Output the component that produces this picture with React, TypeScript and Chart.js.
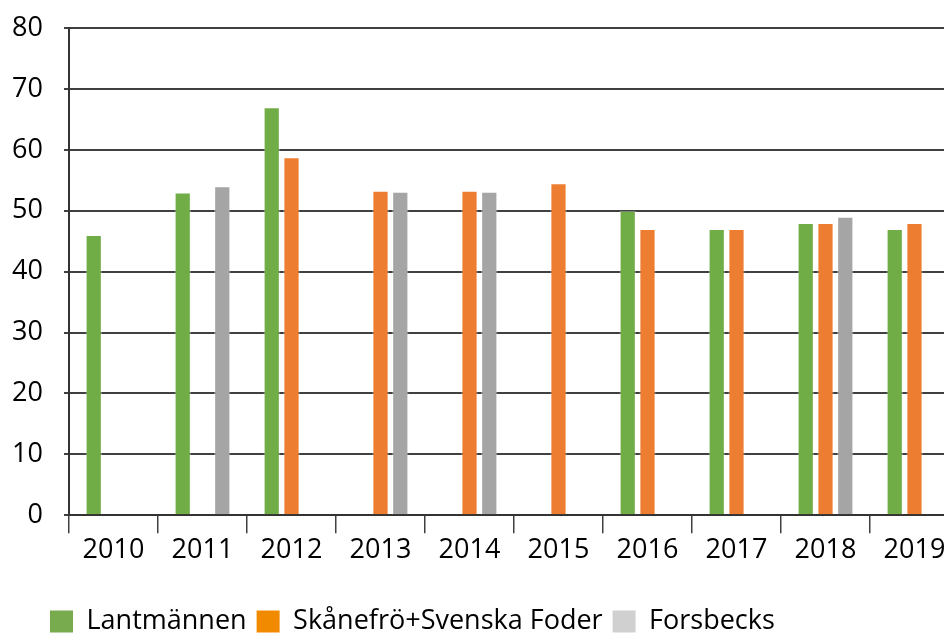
import React, { useEffect, useRef } from "react";
import { Chart, registerables } from "chart.js";

Chart.register(...registerables);

const categories = ["2010", "2011", "2012", "2013", "2014", "2015", "2016", "2017", "2018", "2019"];
const lantmannen = [46, 53, 67, null, null, null, 50, 47, 48, 47];
const skanefro = [null, null, 58.8, 53.3, 53.3, 54.5, 47, 47, 48, 48];
const forsbecks = [null, 54, null, 53.1, 53.1, null, null, null, 49, null];
const seriesNames = ["Lantmännen", "Skånefrö+Svenska Foder", "Forsbecks"];
const barColors = ["#70ad47", "#ed7d31", "#a5a5a5"];
const legendColors = ["#77ab4d", "#f28a00", "#d0d0d0"];
const yTicks = [0, 10, 20, 30, 40, 50, 60, 70, 80];

const FONT = "'Open Sans', 'Noto Sans', sans-serif";

export default function App() {
  const ref = useRef<HTMLCanvasElement>(null);
  useEffect(() => {
    if (!ref.current) return;
    const legendMover = {
      id: "legendMover",
      afterLayout(chart: any) {
        const lg = chart.legend;
        if (!lg) return;
        const w = lg.right - lg.left;
        lg.left = 32;
        lg.right = 32 + w;
        const h = lg.bottom - lg.top;
        lg.top = 590;
        lg.bottom = 590 + h;
      },
    };
    const chart = new Chart(ref.current, {
      type: "bar",
      data: {
        labels: categories,
        datasets: [lantmannen, skanefro, forsbecks].map((d, i) => ({
          label: seriesNames[i],
          data: d,
          backgroundColor: barColors[i],
          borderColor: "rgba(255,255,255,0.4)",
          borderWidth: 1,
          categoryPercentage: 0.667,
          barPercentage: 0.82,
        })),
      },
      options: {
        animation: false,
        responsive: true,
        maintainAspectRatio: false,
        layout: { padding: { top: 20, right: 49, left: 0, bottom: 0 } },
        font: { family: FONT },
        plugins: {
          title: { display: false },
          tooltip: { enabled: false },
          legend: {
            position: "bottom",
            align: "start",
            labels: {
              font: { family: FONT, size: 27 },
              color: "#000",
              boxWidth: 23,
              boxHeight: 22,
              padding: 10,
              generateLabels: () =>
                seriesNames.map((n, i) => ({
                  text: n,
                  fillStyle: legendColors[i],
                  strokeStyle: legendColors[i],
                  lineWidth: 0,
                  hidden: false,
                  datasetIndex: i,
                  fontColor: "#000",
                })),
            },
          },
        },
        scales: {
          x: {
            grid: {
              offset: true,
              drawOnChartArea: false,
              drawTicks: true,
              tickLength: 18,
              color: "#404040",
              lineWidth: 1.5,
            },
            border: { color: "#333", width: 2 },
            ticks: {
              font: { family: FONT, size: 27 },
              color: "#000",
              padding: 1,
              maxRotation: 0,
              autoSkip: false,
            },
            afterFit: (s: any) => {
              s.height = 72.7;
            },
          },
          y: {
            min: 0,
            max: 80,
            afterBuildTicks: (s: any) => {
              s.ticks = yTicks.map((v) => ({ value: v }));
            },
            grid: {
              color: "#404040",
              lineWidth: 2,
              tickLength: 5,
              drawTicks: true,
            },
            border: { color: "#333", width: 2 },
            ticks: {
              font: { family: FONT, size: 27 },
              color: "#000",
              padding: 21,
            },
            afterFit: (s: any) => {
              s.width = 61;
              s.paddingTop = 10;
              s.paddingBottom = 10;
            },
          },
        },
      },
      plugins: [legendMover],
    });
    return () => chart.destroy();
  }, []);
  return (
    <div style={{ width: 944, height: 627, overflow: "hidden" }}>
      <div style={{ width: 1000, height: 627, position: "relative" }}>
        <canvas ref={ref} />
      </div>
    </div>
  );
}
